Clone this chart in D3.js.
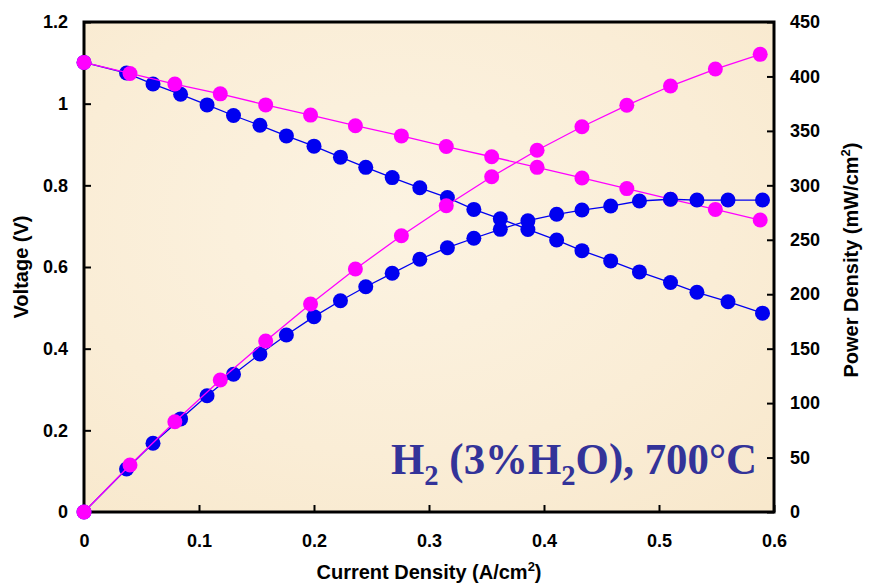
<!DOCTYPE html>
<html>
<head>
<meta charset="utf-8">
<script src="https://cdn.jsdelivr.net/npm/d3@7"></script>
<style>
  body { margin: 0; background: #ffffff; }
  svg { display: block; }
</style>
</head>
<body>
<div id="chart"></div>
<script>
//data: current (A/cm2), voltage (V), power (mW/cm2)
var blueCurrent = [0, 0.037, 0.060, 0.084, 0.107, 0.130, 0.153, 0.176, 0.200, 0.223, 0.245, 0.268, 0.292,
  0.316, 0.339, 0.362, 0.386, 0.411, 0.433, 0.458, 0.483, 0.510, 0.533, 0.560, 0.590];
var blueVoltage = [1.101, 1.075, 1.048, 1.023, 0.997, 0.971, 0.947, 0.921, 0.896, 0.869, 0.844, 0.819, 0.794,
  0.770, 0.741, 0.718, 0.692, 0.666, 0.640, 0.615, 0.588, 0.562, 0.538, 0.515, 0.487];
var bluePower = [0, 39.5, 63.1, 85.5, 106.8, 126.5, 145.1, 162.5, 179.4, 194.0, 206.9, 219.2, 232.1,
  242.7, 251.4, 259.6, 267.5, 273.4, 277.3, 281.0, 285.6, 287.2, 286.5, 286.5, 286.5];

var pinkCurrent = [0, 0.040, 0.079, 0.1185, 0.158, 0.197, 0.236, 0.276, 0.315, 0.3545, 0.394, 0.433, 0.472,
  0.510, 0.549, 0.588];
var pinkVoltage = [1.101, 1.074, 1.048, 1.024, 0.997, 0.972, 0.946, 0.921, 0.895, 0.870, 0.844, 0.818, 0.792,
  0.766, 0.741, 0.715];
var pinkPower = [0, 43.2, 82.9, 121.2, 157.0, 191.0, 223.2, 253.7, 281.3, 307.9, 332.2, 353.8, 373.5,
  391.2, 406.8, 420.3];

var xTicks = [0, 0.1, 0.2, 0.3, 0.4, 0.5, 0.6];
var vTicks = [0, 0.2, 0.4, 0.6, 0.8, 1, 1.2];
var pTicks = [0, 50, 100, 150, 200, 250, 300, 350, 400, 450];

var W = 869, H = 588;
var margin = {top: 22, left: 84, right: 95, bottom: 76};
var w = W - margin.left - margin.right;
var h = H - margin.top - margin.bottom;

var svg = d3.select("#chart").append("svg")
  .attr("width", W)
  .attr("height", H);

//parchment-like plot background
var defs = svg.append("defs");
var grad = defs.append("radialGradient").attr("id", "paper")
  .attr("cx", "45%").attr("cy", "40%").attr("r", "80%");
grad.append("stop").attr("offset", "0%").attr("stop-color", "#fcf3e2");
grad.append("stop").attr("offset", "60%").attr("stop-color", "#faedd6");
grad.append("stop").attr("offset", "100%").attr("stop-color", "#f8e8cc");

var g = svg.append("g")
  .attr("transform", "translate(" + margin.left + "," + margin.top + ")");

g.append("rect")
  .attr("width", w)
  .attr("height", h)
  .attr("fill", "url(#paper)");

//scales
var x = d3.scaleLinear().domain([0, 0.6]).range([0, w]);
var yV = d3.scaleLinear().domain([0, 1.2]).range([h, 0]);
var yP = d3.scaleLinear().domain([0, 450]).range([h, 0]);

var fmt = function(d) { return String(+d.toFixed(1)); };

//axes, ticks pointing inward
var xAxis = g.append("g")
  .attr("transform", "translate(0," + h + ")")
  .call(d3.axisBottom(x).tickValues(xTicks).tickFormat(fmt).tickSize(-7).tickSizeOuter(0).tickPadding(22));

var yAxisL = g.append("g")
  .call(d3.axisLeft(yV).tickValues(vTicks).tickFormat(fmt).tickSize(-7).tickSizeOuter(0).tickPadding(16));

var yAxisR = g.append("g")
  .attr("transform", "translate(" + w + ",0)")
  .call(d3.axisRight(yP).tickValues(pTicks).tickSize(-7).tickSizeOuter(0).tickPadding(16));

[xAxis, yAxisL, yAxisR].forEach(function(a) {
  a.select(".domain").remove();
  a.selectAll(".tick line").attr("stroke", "#000").attr("stroke-width", 2);
  a.selectAll(".tick text")
    .attr("fill", "#000")
    .attr("font-family", "'Liberation Sans', Arial, sans-serif")
    .attr("font-weight", "bold")
    .attr("font-size", 18);
});

//frame
g.append("rect")
  .attr("width", w)
  .attr("height", h)
  .attr("fill", "none")
  .attr("stroke", "#000")
  .attr("stroke-width", 3);

//series: blue voltage, pink voltage, blue power, pink power (drawing order)
var series = [
  {xs: blueCurrent, ys: blueVoltage, scale: yV, color: "#0000f0"},
  {xs: pinkCurrent, ys: pinkVoltage, scale: yV, color: "#ff00ff"},
  {xs: blueCurrent, ys: bluePower, scale: yP, color: "#0000f0"},
  {xs: pinkCurrent, ys: pinkPower, scale: yP, color: "#ff00ff"}
];

series.forEach(function(s) {
  var pts = s.xs.map(function(d, i) { return [d, s.ys[i]]; });
  var line = d3.line()
    .x(function(d) { return x(d[0]); })
    .y(function(d) { return s.scale(d[1]); });

  var sg = g.append("g");
  sg.append("path")
    .datum(pts)
    .attr("d", line)
    .attr("fill", "none")
    .attr("stroke", s.color)
    .attr("stroke-width", 1.3);

  sg.selectAll("circle")
    .data(pts)
    .enter()
    .append("circle")
    .attr("cx", function(d) { return x(d[0]); })
    .attr("cy", function(d) { return s.scale(d[1]); })
    .attr("r", 7.5)
    .attr("fill", s.color);
});

//axis titles
var titleFont = "'Liberation Sans', Arial, sans-serif";

var xt = svg.append("text")
  .attr("x", margin.left + w / 2)
  .attr("y", 579)
  .attr("text-anchor", "middle")
  .attr("font-family", titleFont)
  .attr("font-weight", "bold")
  .attr("font-size", 20);
xt.append("tspan").text("Current Density (A/cm");
xt.append("tspan").attr("dy", -8).attr("font-size", 13).text("2");
xt.append("tspan").attr("dy", 8).text(")");

svg.append("text")
  .attr("transform", "translate(28,267) rotate(-90)")
  .attr("text-anchor", "middle")
  .attr("font-family", titleFont)
  .attr("font-weight", "bold")
  .attr("font-size", 20)
  .text("Voltage (V)");

var yt = svg.append("text")
  .attr("transform", "translate(858,260) rotate(-90)")
  .attr("text-anchor", "middle")
  .attr("font-family", titleFont)
  .attr("font-weight", "bold")
  .attr("font-size", 20);
yt.append("tspan").text("Power Density (mW/cm");
yt.append("tspan").attr("dy", -8).attr("font-size", 13).text("2");
yt.append("tspan").attr("dy", 8).text(")");

//condition label (slightly condensed like the original)
var note = svg.append("text")
  .attr("transform", "translate(391,474) scale(0.953,1)")
  .attr("fill", "#333399")
  .attr("font-family", "'Liberation Serif', 'Times New Roman', serif")
  .attr("font-weight", "bold")
  .attr("font-size", 45);
note.append("tspan").text("H");
note.append("tspan").attr("dy", 11).attr("font-size", 30).text("2");
note.append("tspan").attr("dy", -11).text(" (3%H");
note.append("tspan").attr("dy", 11).attr("font-size", 30).text("2");
note.append("tspan").attr("dy", -11).text("O), 700°C");
</script>
</body>
</html>
